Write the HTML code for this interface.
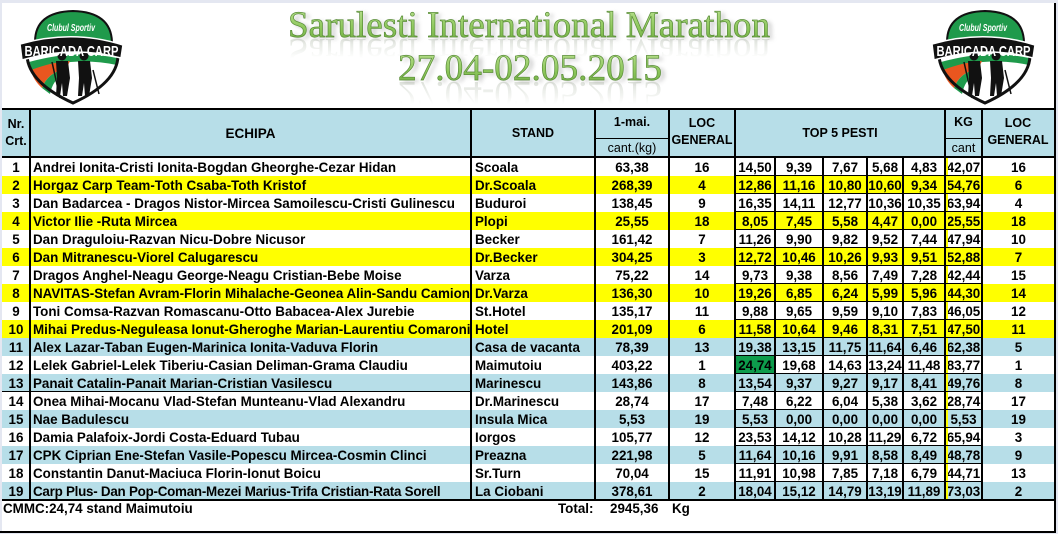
<!DOCTYPE html>
<html><head><meta charset="utf-8">
<style>
html,body{margin:0;padding:0}
body{width:1058px;height:534px;position:relative;overflow:hidden;background:#e4e7f1;font-family:"Liberation Sans",Arial,sans-serif}
#page{position:absolute;left:2px;top:3px;width:1054px;height:530px;background:#fff}
.hb{position:absolute;left:2px;top:110px;width:1053px;height:46px;background:#b7dee8}
table{position:absolute;left:2px;top:158px;border-collapse:collapse;table-layout:fixed;width:1053px}
td{height:18px;padding:0;line-height:18px;font:bold 13.4px "Liberation Sans",Arial,sans-serif;text-align:center;white-space:nowrap;overflow:hidden;color:#000;border:0}
td.l{text-align:left;padding-left:3px}
td.s{text-align:left;padding-left:4px}
tr.y td{background:#ffff00}
tr.b td{background:#b7dee8}
tr.w td{background:#fff}
tr td.g{background:#0d9c4c}
.ln{position:absolute;background:#000}
.ht{position:absolute;font:bold 12.5px "Liberation Sans",Arial,sans-serif;color:#000;text-align:center;line-height:17px;white-space:nowrap}
.hn{font-weight:normal;font-size:12.5px}
.ft{position:absolute;top:501px;line-height:18px;font:bold 13.4px "Liberation Sans",Arial,sans-serif;color:#000;white-space:nowrap}
</style></head><body>
<div id="page"></div>

<svg style="position:absolute;left:0;top:0" width="1058" height="108" xmlns="http://www.w3.org/2000/svg">
<defs>
<linearGradient id="tg" x1="0" y1="0" x2="0" y2="1">
<stop offset="0" stop-color="#bfe497"/><stop offset="0.55" stop-color="#8ec85c"/><stop offset="1" stop-color="#6aa63d"/>
</linearGradient>
<linearGradient id="fade1" x1="0" y1="37" x2="0" y2="58" gradientUnits="userSpaceOnUse">
<stop offset="0" stop-color="#fff" stop-opacity="1"/><stop offset="1" stop-color="#fff" stop-opacity="0"/>
</linearGradient>
<linearGradient id="fade2" x1="0" y1="80" x2="0" y2="104" gradientUnits="userSpaceOnUse">
<stop offset="0" stop-color="#fff" stop-opacity="1"/><stop offset="1" stop-color="#fff" stop-opacity="0"/>
</linearGradient>
<mask id="m1" maskUnits="userSpaceOnUse" x="0" y="0" width="1058" height="108"><rect x="0" y="37" width="1058" height="25" fill="url(#fade1)"/></mask>
<mask id="m2" maskUnits="userSpaceOnUse" x="0" y="0" width="1058" height="108"><rect x="0" y="80" width="1058" height="28" fill="url(#fade2)"/></mask>
<filter id="bl" x="-5%" y="-20%" width="110%" height="140%"><feGaussianBlur stdDeviation="2"/></filter>
</defs>
<!-- reflections -->
<g opacity="0.35" fill="#9aa692" font-family="Liberation Serif, serif" font-size="37">
<g mask="url(#m1)"><text transform="translate(0,76) scale(1,-1)" x="288" y="37" textLength="482" lengthAdjust="spacingAndGlyphs">Sarulesti International Marathon</text></g>
<g mask="url(#m2)"><text transform="translate(0,162) scale(1,-1)" x="398" y="80" textLength="264" lengthAdjust="spacingAndGlyphs">27.04-02.05.2015</text></g>
</g>
<!-- shadows -->
<g opacity="0.4" fill="#777" filter="url(#bl)" font-family="Liberation Serif, serif" font-size="37">
<text x="292" y="39" textLength="482" lengthAdjust="spacingAndGlyphs">Sarulesti International Marathon</text>
<text x="402" y="82" textLength="264" lengthAdjust="spacingAndGlyphs">27.04-02.05.2015</text>
</g>
<g fill="url(#tg)" stroke="#5a8d39" stroke-width="0.7" font-family="Liberation Serif, serif" font-size="37">
<text x="288" y="37" textLength="482" lengthAdjust="spacingAndGlyphs">Sarulesti International Marathon</text>
<text x="398" y="80" textLength="264" lengthAdjust="spacingAndGlyphs">27.04-02.05.2015</text>
</g>

<!-- left logo -->
<g>
<path d="M27 56 L118 56 Q117 83 73 103 Q29 83 27 56 Z" fill="#fff"/>
<path d="M29 62 Q75 49 117 58 L117 65 Q75 56 31 70 Z" fill="#1f9a4b"/>
<path d="M31 70 Q52 62 70 61 L66 69 Q48 72 42 88 Q33 80 31 70 Z" fill="#e9561f"/>
<path d="M42 88 Q48 72 66 69 L64 75 Q53 79 50 94 Z" fill="#1f9a4b"/>
<circle cx="62" cy="56" r="4.5" fill="#111"/>
<path d="M56 61 L68 61 L70 78 L67 96 L63 96 L62 83 L60 96 L56 96 L57 78 Z" fill="#111"/>
<circle cx="84" cy="56" r="4.5" fill="#111"/>
<path d="M78 61 L90 61 L92 78 L89 96 L85 96 L84 83 L82 96 L78 96 L79 78 Z" fill="#111"/>
<path d="M52 62 L60 98 M93 70 L99 94" stroke="#111" stroke-width="1.5"/>
<path d="M27 56 Q29 83 73 103 Q117 83 118 56" fill="none" stroke="#111" stroke-width="3"/>
<path d="M35 42 Q35 12 73 11 Q111 12 112 42 Z" fill="#1f9a4b" stroke="#111" stroke-width="2"/>
<text x="71" y="31" font-family="Liberation Sans, sans-serif" font-size="10" font-weight="bold" font-style="italic" fill="#fff" text-anchor="middle" textLength="48" lengthAdjust="spacingAndGlyphs">Clubul Sportiv</text>
<path d="M20 44 Q73 29 123 45 L121 58 Q73 45 22 60 Z" fill="#111" stroke="#fff" stroke-width="1.5"/>
<text x="71.5" y="56" font-family="Liberation Sans, sans-serif" font-size="15" font-weight="bold" fill="#fff" text-anchor="middle" textLength="94" lengthAdjust="spacingAndGlyphs">BARICADA CARP</text>
</g>
<!-- right logo -->
<g transform="translate(912,0)">
<path d="M27 56 L118 56 Q117 83 73 103 Q29 83 27 56 Z" fill="#fff"/>
<path d="M29 62 Q75 49 117 58 L117 65 Q75 56 31 70 Z" fill="#1f9a4b"/>
<path d="M31 70 Q52 62 70 61 L66 69 Q48 72 42 88 Q33 80 31 70 Z" fill="#e9561f"/>
<path d="M42 88 Q48 72 66 69 L64 75 Q53 79 50 94 Z" fill="#1f9a4b"/>
<circle cx="62" cy="56" r="4.5" fill="#111"/>
<path d="M56 61 L68 61 L70 78 L67 96 L63 96 L62 83 L60 96 L56 96 L57 78 Z" fill="#111"/>
<circle cx="84" cy="56" r="4.5" fill="#111"/>
<path d="M78 61 L90 61 L92 78 L89 96 L85 96 L84 83 L82 96 L78 96 L79 78 Z" fill="#111"/>
<path d="M52 62 L60 98 M93 70 L99 94" stroke="#111" stroke-width="1.5"/>
<path d="M27 56 Q29 83 73 103 Q117 83 118 56" fill="none" stroke="#111" stroke-width="3"/>
<path d="M35 42 Q35 12 73 11 Q111 12 112 42 Z" fill="#1f9a4b" stroke="#111" stroke-width="2"/>
<text x="71" y="31" font-family="Liberation Sans, sans-serif" font-size="10" font-weight="bold" font-style="italic" fill="#fff" text-anchor="middle" textLength="48" lengthAdjust="spacingAndGlyphs">Clubul Sportiv</text>
<path d="M20 44 Q73 29 123 45 L121 58 Q73 45 22 60 Z" fill="#111" stroke="#fff" stroke-width="1.5"/>
<text x="71.5" y="56" font-family="Liberation Sans, sans-serif" font-size="15" font-weight="bold" fill="#fff" text-anchor="middle" textLength="94" lengthAdjust="spacingAndGlyphs">BARICADA CARP</text>
</g>
</svg>

<div class="hb"></div>
<!-- header text -->
<div class="ht" style="left:2px;width:28px;top:116px">Nr.<br>Crt.</div>
<div class="ht" style="left:30px;width:441px;top:125px;font-size:13.5px">ECHIPA</div>
<div class="ht" style="left:471px;width:124px;top:125px">STAND</div>
<div class="ht" style="left:595px;width:74px;top:114px">1-mai.</div>
<div class="ht hn" style="left:595px;width:74px;top:140px">cant.(kg)</div>
<div class="ht" style="left:669px;width:66px;top:115px">LOC<br>GENERAL</div>
<div class="ht" style="left:735px;width:210px;top:125px">TOP 5 PESTI</div>
<div class="ht" style="left:945px;width:37px;top:114px">KG</div>
<div class="ht hn" style="left:945px;width:37px;top:140px">cant</div>
<div class="ht" style="left:982px;width:72px;top:115px">LOC<br>GENERAL</div>

<table>
<colgroup><col style="width:28px"><col style="width:441px"><col style="width:124px"><col style="width:74px"><col style="width:66px"><col style="width:40px"><col style="width:48px"><col style="width:44px"><col style="width:36px"><col style="width:42px"><col style="width:37px"><col style="width:73px"></colgroup>
<tr class="w"><td>1</td><td class="l">Andrei Ionita-Cristi Ionita-Bogdan Gheorghe-Cezar Hidan</td><td class="s">Scoala</td><td>63,38</td><td>16</td><td>14,50</td><td>9,39</td><td>7,67</td><td>5,68</td><td>4,83</td><td>42,07</td><td>16</td></tr>
<tr class="y"><td>2</td><td class="l">Horgaz Carp Team-Toth Csaba-Toth Kristof</td><td class="s">Dr.Scoala</td><td>268,39</td><td>4</td><td>12,86</td><td>11,16</td><td>10,80</td><td>10,60</td><td>9,34</td><td>54,76</td><td>6</td></tr>
<tr class="w"><td>3</td><td class="l">Dan Badarcea - Dragos Nistor-Mircea Samoilescu-Cristi Gulinescu</td><td class="s">Buduroi</td><td>138,45</td><td>9</td><td>16,35</td><td>14,11</td><td>12,77</td><td>10,36</td><td>10,35</td><td>63,94</td><td>4</td></tr>
<tr class="y"><td>4</td><td class="l">Victor Ilie -Ruta Mircea</td><td class="s">Plopi</td><td>25,55</td><td>18</td><td>8,05</td><td>7,45</td><td>5,58</td><td>4,47</td><td>0,00</td><td>25,55</td><td>18</td></tr>
<tr class="w"><td>5</td><td class="l">Dan Draguloiu-Razvan Nicu-Dobre Nicusor</td><td class="s">Becker</td><td>161,42</td><td>7</td><td>11,26</td><td>9,90</td><td>9,82</td><td>9,52</td><td>7,44</td><td>47,94</td><td>10</td></tr>
<tr class="y"><td>6</td><td class="l">Dan Mitranescu-Viorel Calugarescu</td><td class="s">Dr.Becker</td><td>304,25</td><td>3</td><td>12,72</td><td>10,46</td><td>10,26</td><td>9,93</td><td>9,51</td><td>52,88</td><td>7</td></tr>
<tr class="w"><td>7</td><td class="l">Dragos Anghel-Neagu George-Neagu Cristian-Bebe Moise</td><td class="s">Varza</td><td>75,22</td><td>14</td><td>9,73</td><td>9,38</td><td>8,56</td><td>7,49</td><td>7,28</td><td>42,44</td><td>15</td></tr>
<tr class="y"><td>8</td><td class="l">NAVITAS-Stefan Avram-Florin Mihalache-Geonea Alin-Sandu Camion</td><td class="s">Dr.Varza</td><td>136,30</td><td>10</td><td>19,26</td><td>6,85</td><td>6,24</td><td>5,99</td><td>5,96</td><td>44,30</td><td>14</td></tr>
<tr class="w"><td>9</td><td class="l">Toni Comsa-Razvan Romascanu-Otto Babacea-Alex Jurebie</td><td class="s">St.Hotel</td><td>135,17</td><td>11</td><td>9,88</td><td>9,65</td><td>9,59</td><td>9,10</td><td>7,83</td><td>46,05</td><td>12</td></tr>
<tr class="y"><td>10</td><td class="l">Mihai Predus-Neguleasa Ionut-Gheroghe Marian-Laurentiu Comaroni</td><td class="s">Hotel</td><td>201,09</td><td>6</td><td>11,58</td><td>10,64</td><td>9,46</td><td>8,31</td><td>7,51</td><td>47,50</td><td>11</td></tr>
<tr class="b"><td>11</td><td class="l">Alex Lazar-Taban Eugen-Marinica Ionita-Vaduva Florin</td><td class="s">Casa de vacanta</td><td>78,39</td><td>13</td><td>19,38</td><td>13,15</td><td>11,75</td><td>11,64</td><td>6,46</td><td>62,38</td><td>5</td></tr>
<tr class="w"><td>12</td><td class="l">Lelek Gabriel-Lelek Tiberiu-Casian Deliman-Grama Claudiu</td><td class="s">Maimutoiu</td><td>403,22</td><td>1</td><td class="g">24,74</td><td>19,68</td><td>14,63</td><td>13,24</td><td>11,48</td><td>83,77</td><td>1</td></tr>
<tr class="b"><td>13</td><td class="l">Panait Catalin-Panait Marian-Cristian Vasilescu</td><td class="s">Marinescu</td><td>143,86</td><td>8</td><td>13,54</td><td>9,37</td><td>9,27</td><td>9,17</td><td>8,41</td><td>49,76</td><td>8</td></tr>
<tr class="w"><td>14</td><td class="l">Onea Mihai-Mocanu Vlad-Stefan Munteanu-Vlad Alexandru</td><td class="s">Dr.Marinescu</td><td>28,74</td><td>17</td><td>7,48</td><td>6,22</td><td>6,04</td><td>5,38</td><td>3,62</td><td>28,74</td><td>17</td></tr>
<tr class="b"><td>15</td><td class="l">Nae Badulescu</td><td class="s">Insula Mica</td><td>5,53</td><td>19</td><td>5,53</td><td>0,00</td><td>0,00</td><td>0,00</td><td>0,00</td><td>5,53</td><td>19</td></tr>
<tr class="w"><td>16</td><td class="l">Damia Palafoix-Jordi Costa-Eduard Tubau</td><td class="s">Iorgos</td><td>105,77</td><td>12</td><td>23,53</td><td>14,12</td><td>10,28</td><td>11,29</td><td>6,72</td><td>65,94</td><td>3</td></tr>
<tr class="b"><td>17</td><td class="l">CPK Ciprian Ene-Stefan Vasile-Popescu Mircea-Cosmin Clinci</td><td class="s">Preazna</td><td>221,98</td><td>5</td><td>11,64</td><td>10,16</td><td>9,91</td><td>8,58</td><td>8,49</td><td>48,78</td><td>9</td></tr>
<tr class="w"><td>18</td><td class="l">Constantin Danut-Maciuca Florin-Ionut Boicu</td><td class="s">Sr.Turn</td><td>70,04</td><td>15</td><td>11,91</td><td>10,98</td><td>7,85</td><td>7,18</td><td>6,79</td><td>44,71</td><td>13</td></tr>
<tr class="b"><td>19</td><td class="l" style="letter-spacing:-0.25px">Carp Plus- Dan Pop-Coman-Mezei Marius-Trifa Cristian-Rata Sorell</td><td class="s">La Ciobani</td><td>378,61</td><td>2</td><td>18,04</td><td>15,12</td><td>14,79</td><td>13,19</td><td>11,89</td><td>73,03</td><td>2</td></tr>
</table>

<!-- KG yellow stripe -->
<div style="position:absolute;left:946px;top:158px;width:2px;height:341px;background:#ffff00"></div>

<!-- horizontal lines -->
<div class="ln" style="left:2px;top:108px;width:1053px;height:2px"></div>
<div class="ln" style="left:2px;top:156px;width:1053px;height:2px"></div>
<div class="ln" style="left:595px;top:138px;width:74px;height:1px"></div>
<div class="ln" style="left:945px;top:138px;width:37px;height:1px"></div>
<div class="ln" style="left:735px;top:175px;width:247px;height:1px"></div>
<div class="ln" style="left:735px;top:193px;width:247px;height:1px"></div>
<div class="ln" style="left:735px;top:211px;width:247px;height:1px"></div>
<div class="ln" style="left:735px;top:229px;width:247px;height:1px"></div>
<div class="ln" style="left:735px;top:247px;width:247px;height:1px"></div>
<div class="ln" style="left:735px;top:265px;width:247px;height:1px"></div>
<div class="ln" style="left:735px;top:283px;width:247px;height:1px"></div>
<div class="ln" style="left:735px;top:301px;width:247px;height:1px"></div>
<div class="ln" style="left:735px;top:319px;width:247px;height:1px"></div>
<div class="ln" style="left:735px;top:337px;width:247px;height:1px"></div>
<div class="ln" style="left:735px;top:355px;width:247px;height:1px"></div>
<div class="ln" style="left:735px;top:373px;width:247px;height:1px"></div>
<div class="ln" style="left:735px;top:391px;width:247px;height:1px"></div>
<div class="ln" style="left:735px;top:409px;width:247px;height:1px"></div>
<div class="ln" style="left:735px;top:427px;width:247px;height:1px"></div>
<div class="ln" style="left:735px;top:445px;width:247px;height:1px"></div>
<div class="ln" style="left:735px;top:463px;width:247px;height:1px"></div>
<div class="ln" style="left:735px;top:481px;width:247px;height:1px"></div>
<div class="ln" style="left:2px;top:391px;width:469px;height:1px"></div>
<div class="ln" style="left:2px;top:499px;width:1053px;height:2px"></div>
<div class="ln" style="left:0px;top:531px;width:1056px;height:2px"></div>

<!-- vertical lines -->
<div class="ln" style="left:29px;top:108px;width:2px;height:392px"></div>
<div class="ln" style="left:470px;top:108px;width:2px;height:392px"></div>
<div class="ln" style="left:594px;top:108px;width:2px;height:392px"></div>
<div class="ln" style="left:668px;top:108px;width:2px;height:392px"></div>
<div class="ln" style="left:734px;top:108px;width:2px;height:392px"></div>
<div class="ln" style="left:774px;top:156px;width:2px;height:344px"></div>
<div class="ln" style="left:822px;top:156px;width:2px;height:344px"></div>
<div class="ln" style="left:866px;top:156px;width:2px;height:344px"></div>
<div class="ln" style="left:902px;top:156px;width:2px;height:344px"></div>
<div class="ln" style="left:944px;top:108px;width:2px;height:392px"></div>
<div class="ln" style="left:981px;top:108px;width:2px;height:392px"></div>
<div class="ln" style="left:1054px;top:3px;width:2px;height:530px"></div>

<!-- footer -->
<div class="ft" style="left:3px">CMMC:24,74 stand Maimutoiu</div>
<div class="ft" style="left:558px">Total:</div>
<div class="ft" style="left:610px">2945,36</div>
<div class="ft" style="left:672px">Kg</div>
</body></html>
